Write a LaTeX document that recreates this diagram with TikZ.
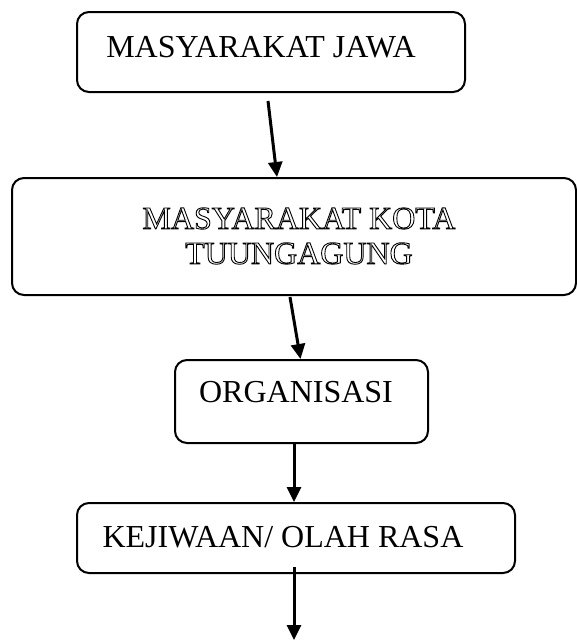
\documentclass[tikz,border=0pt]{standalone}
\usepackage{fontspec}
\setmainfont{Liberation Serif}
\usetikzlibrary{arrows.meta}
\newcommand\outlinetext[1]{\special{pdf:literal direct 1 Tr 0.9 w 0 G}#1\special{pdf:literal direct 0 Tr}}
\begin{document}
\begin{tikzpicture}[x=1pt,y=-1pt,
  box/.style={draw=black,line width=2pt,rounded corners=12pt,inner sep=0pt},
  lbl/.style={font=\fontsize{32}{35}\selectfont,inner sep=0pt,anchor=center},
  arr/.style={line width=3pt,-{Triangle[length=15pt,width=14pt]}}]
\useasboundingbox (0,0) rectangle (577,640);
% boxes
\node[box,minimum width=388pt,minimum height=80pt] (b1) at (271,52) {};
\node[box,minimum width=564pt,minimum height=117pt] (b2) at (294,236.5) {};
\node[box,minimum width=253pt,minimum height=83pt] (b3) at (301.5,401.5) {};
\node[box,minimum width=438pt,minimum height=70pt] (b4) at (296,538) {};
% texts
\node[lbl,align=center] (t1) at (261,47) {MASYARAKAT JAWA};
\node[lbl,align=center] (t2) at (299,236) {\outlinetext{MASYARAKAT KOTA}\\\outlinetext{TUUNGAGUNG}};
\node[lbl] (t3) at (296,392) {ORGANISASI};
\node[lbl] (t4) at (283,537) {KEJIWAAN/ OLAH RASA};
% connectors
\coordinate (e) at (294,640);
\draw[arr] ([xshift=-3pt,yshift=-8pt]b1.south) -- ([xshift=-17pt]b2.north);
\draw[arr] ([xshift=-4pt,yshift=-1pt]b2.south) -- ([xshift=-1pt]b3.north);
\draw[arr] ([xshift=-7.5pt]b3.south) -- ([xshift=-2pt]b4.north);
\draw[arr] ([xshift=-2pt,yshift=7pt]b4.south) -- (e);
\end{tikzpicture}
\end{document}
